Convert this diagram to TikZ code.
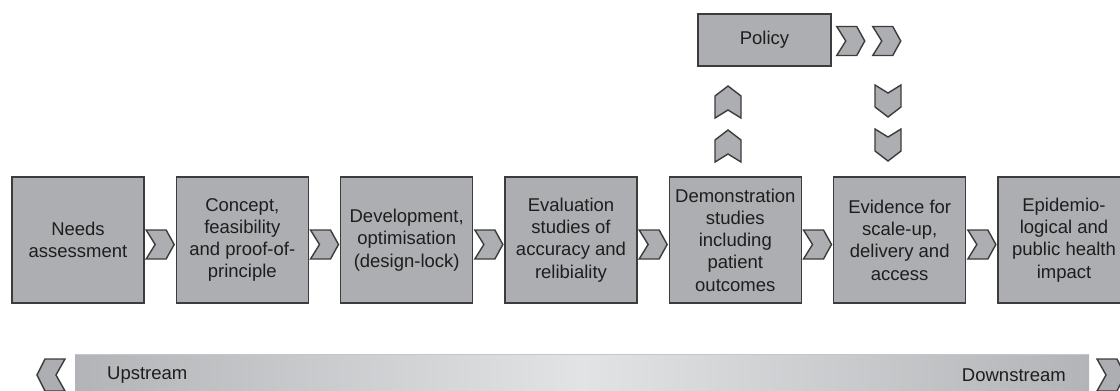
\documentclass[tikz,border=0pt]{standalone}
\usepackage{fontspec}
\setmainfont{Liberation Sans}
\usetikzlibrary{calc}
\definecolor{boxfill}{HTML}{ADAEB1}
\definecolor{boxline}{HTML}{3C3C3C}
\definecolor{txt}{HTML}{1E1E1E}
\definecolor{barend}{HTML}{B3B4B7}
\definecolor{barmid}{HTML}{E2E3E5}
\tikzset{
  box/.style={draw=boxline, fill=boxfill, line width=1.5pt, inner sep=0pt,
    minimum width=132pt, minimum height=126pt, align=center, text=txt,
    font=\fontsize{18.5}{22.3}\selectfont},
  chevsty/.style={draw=boxline, fill=boxfill, line width=1.4pt, line join=miter},
  lbl/.style={text=txt, font=\fontsize{18.5}{22.3}\selectfont, inner sep=0pt},
  chevR/.pic={\path[chevsty] (-14,-14.5) -- (6,-14.5) -- (14,0) -- (6,14.5) -- (-14,14.5) -- (-5,0) -- cycle;},
  chevL/.pic={\path[chevsty] (14,-16) -- (-6,-16) -- (-14,0) -- (-6,16) -- (14,16) -- (5,0) -- cycle;},
  chevRb/.pic={\path[chevsty] (-14,-16) -- (6,-16) -- (14,0) -- (6,16) -- (-14,16) -- (-5,0) -- cycle;},
  chevU/.pic={\path[chevsty] (-13,16) -- (-13,-6) -- (0,-16) -- (13,-6) -- (13,16) -- (0,8) -- cycle;},
  chevD/.pic={\path[chevsty] (-13,-16) -- (0,-8) -- (13,-16) -- (13,6) -- (0,16) -- (-13,6) -- cycle;},
}
\begin{document}
\begin{tikzpicture}[x=1pt, y=-1pt]
\useasboundingbox (0,0) rectangle (1120,391);
\clip (0,0) rectangle (1120,391);
% stage boxes
\node[box] (b1) at (78,240) {Needs\\assessment};
\node[box] (b2) at (242.3,240) {Concept,\\feasibility\\and proof-of-\\principle};
\node[box] (b3) at (406.7,240) {Development,\\optimisation\\(design-lock)};
\node[box] (b4) at (571,240) {Evaluation\\studies of\\accuracy and\\relibiality};
\node[box] (b5) at (735.3,240) {Demonstration\\studies\\including\\patient\\outcomes};
\node[box] (b6) at (899.7,240) {Evidence for\\scale-up,\\delivery and\\access};
\node[box] (b7) at (1064,240) {Epidemio-\\logical and\\public health\\impact};
% chevrons between boxes
\foreach \a/\b in {b1/b2,b2/b3,b3/b4,b4/b5,b5/b6,b6/b7}
  \pic at ($($(\a.east)!0.5!(\b.west)$)+(0,4.5)$) {chevR};
% policy
\node[box, minimum width=133pt, minimum height=52pt] (p) at (764.5,40) {Policy};
\pic at ($(p.east)+(19,1)$) {chevR};
\pic at ($(p.east)+(55,1)$) {chevR};
\coordinate (u1) at (728,102);
\coordinate (u2) at (728,146);
\pic at (u1) {chevU};
\pic at (u2) {chevU};
\coordinate (d1) at (888,101);
\coordinate (d2) at (888,145);
\pic at (d1) {chevD};
\pic at (d2) {chevD};
% bottom bar
\shade[left color=barend, right color=barend, middle color=barmid] (75,354) rectangle (1089,400);
\draw[line width=1pt, color=gray!45] (75,354.5) -- (1089,354.5);
\node[lbl, anchor=west] (up) at (107,375) {Upstream};
\node[lbl, anchor=east] (down) at (1066,375) {Downstream};
\pic at (51,375) {chevL};
\pic at (1111,375) {chevRb};
\end{tikzpicture}
\end{document}
